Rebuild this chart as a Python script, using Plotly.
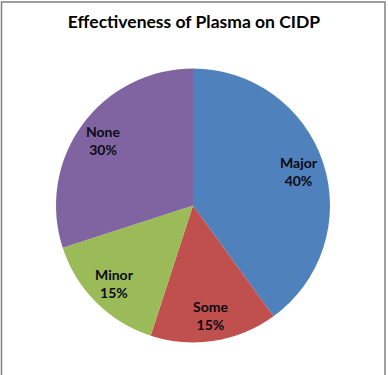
import math
import plotly.graph_objects as go

categories = ["Major", "Some", "Minor", "None"]
values = [40, 15, 15, 30]
colors = ["#4F81BD", "#C0504D", "#9BBB59", "#8064A2"]
title_text = "Effectiveness of Plasma on CIDP"

W, H = 388, 375
# pie placement (pixels)
px0, px1 = 56, 330
py0, py1 = 68, 343
cx_px, cy_px = (px0 + px1) / 2, (py0 + py1) / 2
r_px = (px1 - px0) / 2
label_frac = 0.81

fig = go.Figure(go.Pie(
    labels=categories,
    values=values,
    sort=False,
    direction="clockwise",
    rotation=0,
    marker=dict(colors=colors, line=dict(width=0)),
    textinfo="none",
    domain=dict(x=[px0 / W, px1 / W], y=[1 - py1 / H, 1 - py0 / H]),
    showlegend=False,
    hoverinfo="label+percent",
))

total = sum(values)
annotations = []
cum = 0
for lab, v in zip(categories, values):
    mid = (cum + v / 2) / total * 2 * math.pi
    cum += v
    x_px = cx_px + label_frac * r_px * math.sin(mid)
    y_px = cy_px - label_frac * r_px * math.cos(mid)
    annotations.append(dict(
        x=x_px / W, y=1 - y_px / H, xref="paper", yref="paper",
        text="<b>%s<br>%d%%</b>" % (lab, round(v / total * 100)),
        showarrow=False, xanchor="center", yanchor="middle", align="center",
        font=dict(family="Lato, 'Open Sans', sans-serif", size=14, color="#0a0a14"),
    ))

fig.update_layout(
    width=W,
    height=H,
    margin=dict(l=0, r=0, t=0, b=0),
    paper_bgcolor="white",
    plot_bgcolor="white",
    title=dict(
        text="<b>" + title_text + "</b>",
        x=194 / W,
        xanchor="center",
        y=1 - 22 / H,
        yanchor="middle",
        font=dict(family="Lato, 'Open Sans', sans-serif", size=17.5, color="#000000"),
    ),
    annotations=annotations,
    shapes=[
        dict(type="rect", xref="paper", yref="paper",
             x0=1.5 / W, x1=385 / W, y0=-0.05, y1=1 - 2 / H,
             line=dict(color="#808080", width=1.5), fillcolor="rgba(0,0,0,0)")
    ],
)

fig.write_html(
    "out.html",
    config={"displayModeBar": False},
    post_script="document.body.style.margin='0';document.body.style.overflow='hidden';",
)
